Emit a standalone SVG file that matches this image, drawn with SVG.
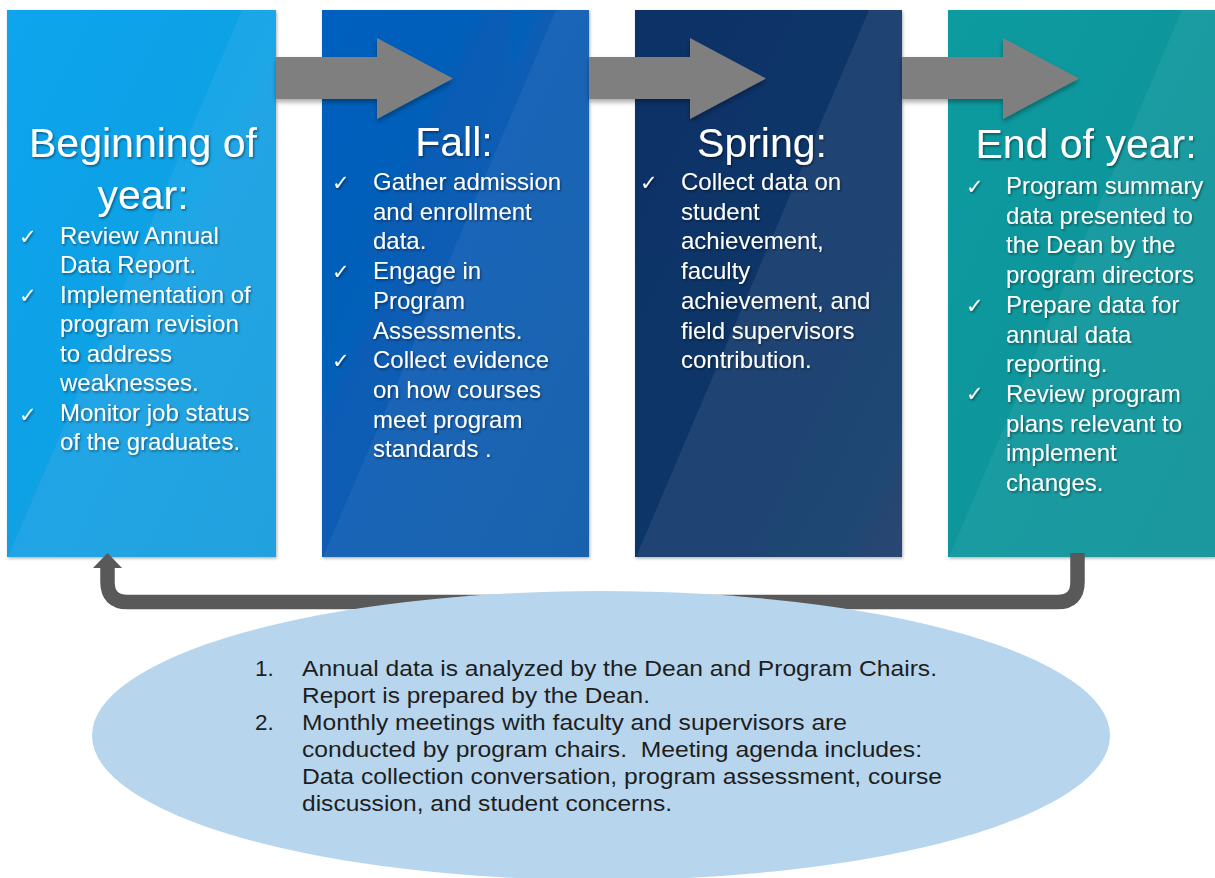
<svg xmlns="http://www.w3.org/2000/svg" width="1215" height="878" viewBox="0 0 1215 878">
<defs>
<style>
.title{font-family:"Liberation Sans",Arial,sans-serif;font-size:41px;fill:#ffffff;text-anchor:middle}
.body{font-family:"Liberation Sans",Arial,sans-serif;font-size:24px;fill:#ffffff}
.chk{font-family:"DejaVu Sans",sans-serif;font-size:21px;fill:#ffffff}
.note{font-family:"Liberation Sans",Arial,sans-serif;font-size:22.5px;fill:#1e1e1e}
.arrow{fill:#7f7f7f}
.sheen{fill:#ffffff;fill-opacity:0.055}
</style>
<filter id="ts" x="-10%" y="-20%" width="120%" height="150%">
<feDropShadow dx="1.2" dy="1.5" stdDeviation="1" flood-color="#000000" flood-opacity="0.45"/>
</filter>
<filter id="ps" x="-5%" y="-5%" width="110%" height="110%">
<feDropShadow dx="1" dy="1.5" stdDeviation="1.5" flood-color="#000000" flood-opacity="0.3"/>
</filter>
<filter id="as" x="-10%" y="-20%" width="120%" height="160%">
<feDropShadow dx="0" dy="3" stdDeviation="2.5" flood-color="#000000" flood-opacity="0.35"/>
</filter>
<linearGradient id="g1" x1="0" y1="0" x2="1" y2="1">
<stop offset="0" stop-color="#0ca5ee"/><stop offset="1" stop-color="#179cdc"/>
</linearGradient>
<linearGradient id="g2" x1="0" y1="0" x2="1" y2="1">
<stop offset="0" stop-color="#0460bf"/><stop offset="1" stop-color="#0b59a8"/>
</linearGradient>
<linearGradient id="g3" x1="0" y1="0" x2="1" y2="1">
<stop offset="0" stop-color="#0b3267"/><stop offset="1" stop-color="#123868"/>
</linearGradient>
<linearGradient id="g4" x1="0" y1="0" x2="1" y2="1">
<stop offset="0" stop-color="#0c9ba0"/><stop offset="1" stop-color="#0c9298"/>
</linearGradient>
</defs>
<rect width="1215" height="878" fill="#ffffff"/>

<g id="panel-beginning">
<rect x="7" y="10" width="269" height="547" fill="url(#g1)" filter="url(#ps)"/>
<polygon class="sheen" points="242,10 276,10 276,557 8,557"/>
<g filter="url(#ts)">
<text class="title" x="143" y="157">Beginning of</text>
<text class="title" x="143" y="209">year:</text>
<text class="chk" x="19" y="244">✓</text>
<text class="chk" x="19" y="303">✓</text>
<text class="chk" x="19" y="422">✓</text>
<text class="body" x="60" y="243.5">Review Annual</text>
<text class="body" x="60" y="273">Data Report.</text>
<text class="body" x="60" y="302.5">Implementation of</text>
<text class="body" x="60" y="332">program revision</text>
<text class="body" x="60" y="361.5">to address</text>
<text class="body" x="60" y="391">weaknesses.</text>
<text class="body" x="60" y="420.5">Monitor job status</text>
<text class="body" x="60" y="450">of the graduates.</text>
</g>
</g>

<g id="panel-fall">
<rect x="322" y="10" width="267" height="547" fill="url(#g2)" filter="url(#ps)"/>
<polygon class="sheen" points="556,10 589,10 589,557 323,557"/>
<g filter="url(#ts)">
<text class="title" x="454" y="156">Fall:</text>
<text class="chk" x="332" y="190">✓</text>
<text class="chk" x="332" y="279">✓</text>
<text class="chk" x="332" y="368">✓</text>
<text class="body" x="373" y="190">Gather admission</text>
<text class="body" x="373" y="219.7">and enrollment</text>
<text class="body" x="373" y="249.4">data.</text>
<text class="body" x="373" y="279.1">Engage in</text>
<text class="body" x="373" y="308.8">Program</text>
<text class="body" x="373" y="338.5">Assessments.</text>
<text class="body" x="373" y="368.2">Collect evidence</text>
<text class="body" x="373" y="397.9">on how courses</text>
<text class="body" x="373" y="427.6">meet program</text>
<text class="body" x="373" y="457.3">standards .</text>
</g>
</g>

<g id="panel-spring">
<rect x="635" y="10" width="267" height="547" fill="url(#g3)" filter="url(#ps)"/>
<polygon class="sheen" points="869,10 902,10 902,557 636,557" style="fill-opacity:0.08"/>
<g filter="url(#ts)">
<text class="title" x="762" y="157">Spring:</text>
<text class="chk" x="640" y="190">✓</text>
<text class="body" x="681" y="190">Collect data on</text>
<text class="body" x="681" y="219.7">student</text>
<text class="body" x="681" y="249.4">achievement,</text>
<text class="body" x="681" y="279.1">faculty</text>
<text class="body" x="681" y="308.8">achievement, and</text>
<text class="body" x="681" y="338.5">field supervisors</text>
<text class="body" x="681" y="368.2">contribution.</text>
</g>
</g>

<g id="panel-end">
<rect x="948" y="10" width="267" height="547" fill="url(#g4)" filter="url(#ps)"/>
<polygon class="sheen" points="1182,10 1215,10 1215,557 949,557"/>
<g filter="url(#ts)">
<text class="title" x="1086" y="158">End of year:</text>
<text class="chk" x="966" y="194">✓</text>
<text class="chk" x="966" y="313">✓</text>
<text class="chk" x="966" y="401">✓</text>
<text class="body" x="1006" y="194">Program summary</text>
<text class="body" x="1006" y="223.7">data presented to</text>
<text class="body" x="1006" y="253.4">the Dean by the</text>
<text class="body" x="1006" y="283.1">program directors</text>
<text class="body" x="1006" y="312.8">Prepare data for</text>
<text class="body" x="1006" y="342.5">annual data</text>
<text class="body" x="1006" y="372.2">reporting.</text>
<text class="body" x="1006" y="401.9">Review program</text>
<text class="body" x="1006" y="431.6">plans relevant to</text>
<text class="body" x="1006" y="461.3">implement</text>
<text class="body" x="1006" y="491">changes.</text>
</g>
</g>

<g id="connectors">
<g filter="url(#as)">
<polygon class="arrow" points="276,57 377,57 377,38 453,78.5 377,119 377,99 276,99"/>
<polygon class="arrow" points="589,57 690,57 690,38 766,78.5 690,119 690,99 589,99"/>
<polygon class="arrow" points="902,57 1003,57 1003,38 1079,78.5 1003,119 1003,99 902,99"/>
</g>
<path d="M1077.5,553 V582 Q1077.5,602 1057.5,602 H127.5 Q107.5,602 107.5,582 V566" fill="none" stroke="#595959" stroke-width="14.5"/>
<polygon points="93,568 107.5,553 122,568" fill="#595959"/>
</g>

<g id="note">
<ellipse cx="601" cy="735.5" rx="509" ry="144.5" fill="#b7d6ee"/>
<text class="note" x="255" y="676">1.</text>
<text class="note" x="255" y="730">2.</text>
<text class="note" x="302" y="676" textLength="635" lengthAdjust="spacingAndGlyphs">Annual data is analyzed by the Dean and Program Chairs.</text>
<text class="note" x="302" y="703" textLength="348" lengthAdjust="spacingAndGlyphs">Report is prepared by the Dean.</text>
<text class="note" x="302" y="730" textLength="545" lengthAdjust="spacingAndGlyphs">Monthly meetings with faculty and supervisors are</text>
<text class="note" x="302" y="757" textLength="620" lengthAdjust="spacingAndGlyphs" xml:space="preserve">conducted by program chairs.  Meeting agenda includes:</text>
<text class="note" x="302" y="784" textLength="640" lengthAdjust="spacingAndGlyphs">Data collection conversation, program assessment, course</text>
<text class="note" x="302" y="811" textLength="370" lengthAdjust="spacingAndGlyphs">discussion, and student concerns.</text>
</g>
</svg>
